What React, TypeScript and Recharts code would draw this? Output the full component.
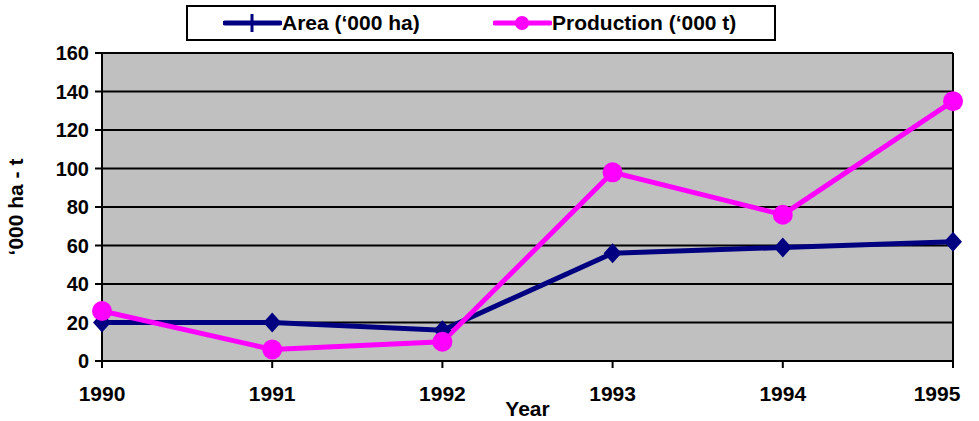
import { CartesianGrid, Label, Line, LineChart, ReferenceLine, XAxis, YAxis } from "recharts";

const years = [1990, 1991, 1992, 1993, 1994, 1995];
const area = [20, 20, 16, 56, 59, 62];
const production = [26, 6, 10, 98, 76, 135];
const yTicks = [0, 20, 40, 60, 80, 100, 120, 140, 160];

const data = years.map((year, i) => ({ year, area: area[i], production: production[i] }));

const NAVY = "#000080";
const MAGENTA = "#FF00FF";
const FONT = "'Liberation Sans', Arial, sans-serif";

function Diamond(props: any) {
  const { cx, cy } = props;
  if (cx == null || cy == null) return null;
  const rx = 9;
  const ry = 10;
  return <path d={`M${cx},${cy - ry}L${cx + rx},${cy}L${cx},${cy + ry}L${cx - rx},${cy}Z`} fill={NAVY} />;
}

function Dot(props: any) {
  const { cx, cy } = props;
  if (cx == null || cy == null) return null;
  return <circle cx={cx} cy={cy} r={10} fill={MAGENTA} />;
}

function XTick(props: any) {
  const { x, y, payload } = props;
  const shift = payload.value === 1995 ? -16 : 0;
  return (
    <text x={x + shift} y={y} dy={15} textAnchor="middle" fontFamily={FONT} fontWeight="bold" fontSize={21} fill="#000">
      {payload.value}
    </text>
  );
}

function LegendBox() {
  const item = (color: string, label: string, marker: "cross" | "dot", left: number) => (
    <div style={{ position: "absolute", left, top: 6, display: "flex", alignItems: "center" }}>
      <svg width={59} height={20}>
        <line x1={2} y1={10} x2={57} y2={10} stroke={color} strokeWidth={5} strokeLinecap="round" />
        {marker === "cross" ? (
          <line x1={29} y1={1} x2={29} y2={19} stroke={color} strokeWidth={3} />
        ) : (
          <circle cx={29} cy={10} r={7} fill={color} />
        )}
      </svg>
      <span style={{ fontFamily: FONT, fontWeight: "bold", fontSize: 21, color: "#000", lineHeight: "20px" }}>{label}</span>
    </div>
  );
  return (
    <div
      style={{
        position: "absolute",
        left: 186,
        top: 5,
        width: 590,
        height: 36,
        boxSizing: "border-box",
        border: "2px solid #000",
        background: "#fff",
      }}
    >
      {item(NAVY, "Area (\u2018000 ha)", "cross", 35)}
      {item(MAGENTA, "Production (\u2018000 t)", "dot", 305)}
    </div>
  );
}

export default function App() {
  return (
    <div style={{ position: "absolute", left: 0, top: 0, width: 979, height: 421, background: "#fff" }}>
      <LineChart width={979} height={421} data={data} margin={{ top: 53, right: 26, bottom: 0, left: 0 }}>
        <CartesianGrid vertical={false} stroke="#000" strokeWidth={2} fill="#C0C0C0" fillOpacity={1} />
        <XAxis
          dataKey="year"
          type="number"
          domain={[1990, 1995]}
          ticks={years}
          axisLine={{ stroke: "#000", strokeWidth: 2 }}
          tickLine={{ stroke: "#000", strokeWidth: 2 }}
          tickSize={7}
          tickMargin={18}
          tick={<XTick />}
          height={60}
        >
          <Label value="Year" position="insideBottom" offset={5} style={{ fontFamily: FONT, fontWeight: "bold", fontSize: 21, fill: "#000" }} />
        </XAxis>
        <YAxis
          domain={[0, 160]}
          ticks={yTicks}
          interval={0}
          axisLine={{ stroke: "#000", strokeWidth: 2 }}
          tickLine={{ stroke: "#000", strokeWidth: 2 }}
          tickSize={7}
          tickMargin={6}
          tick={{ fontFamily: FONT, fontWeight: "bold", fontSize: 20, fill: "#000" }}
          width={102}
        >
          <Label
            value={"\u2018000 ha - t"}
            angle={-90}
            position="insideLeft"
            offset={16}
            style={{ textAnchor: "middle", fontFamily: FONT, fontWeight: "bold", fontSize: 21, fill: "#000" }}
          />
        </YAxis>
        <ReferenceLine x={1995} stroke="#000" strokeWidth={2} />
        <Line type="linear" dataKey="area" stroke={NAVY} strokeWidth={5} dot={<Diamond />} activeDot={false} isAnimationActive={false} />
        <Line type="linear" dataKey="production" stroke={MAGENTA} strokeWidth={5} dot={<Dot />} activeDot={false} isAnimationActive={false} />
      </LineChart>
      <LegendBox />
    </div>
  );
}
